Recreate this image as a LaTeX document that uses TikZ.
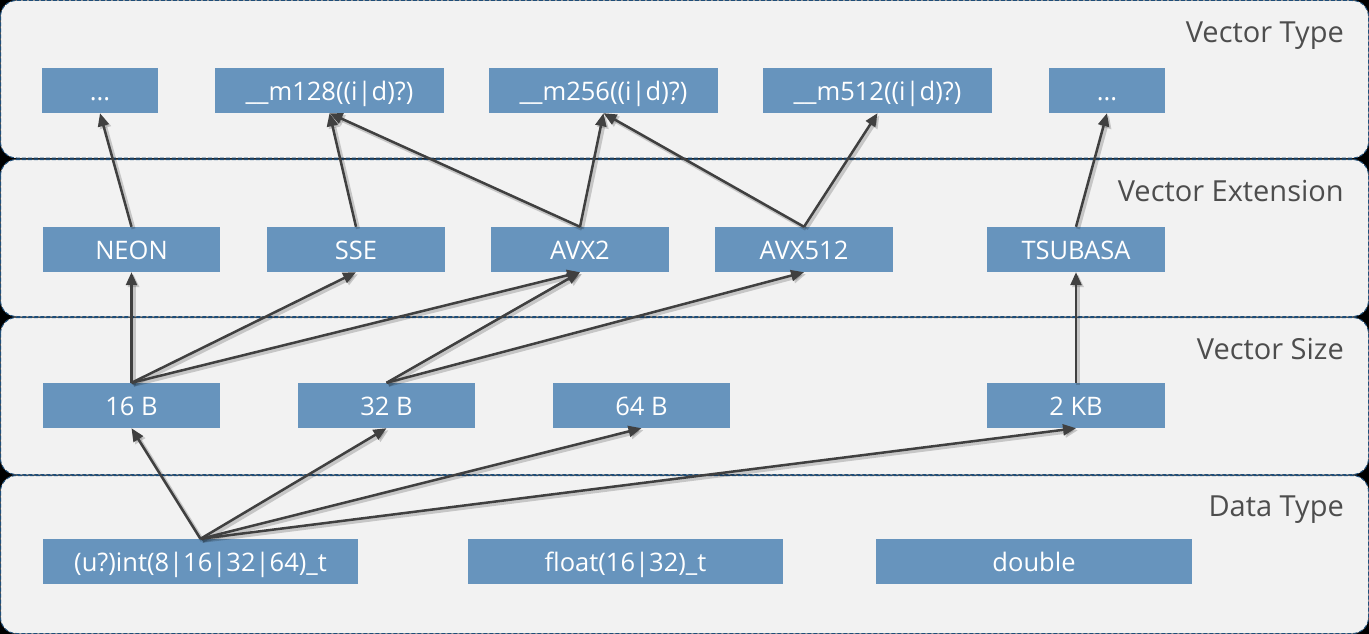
\documentclass[tikz,border=0pt]{standalone}
\usepackage{fontspec}
\setmainfont{Open Sans}
\usetikzlibrary{arrows.meta}
\definecolor{bandfill}{HTML}{F2F2F2}
\definecolor{bandline}{HTML}{1F4E79}
\definecolor{boxfill}{HTML}{6794BD}
\definecolor{arrcol}{HTML}{404040}
\definecolor{labcol}{HTML}{4D4D4D}
\tikzset{
  band/.style={fill=bandfill, draw=bandline, line width=1pt, dash pattern=on 4pt off 2pt, rounded corners=16pt},
  box/.style={fill=boxfill, text=white, minimum height=45pt, inner sep=0pt, text height=24pt, text depth=5pt, font=\fontsize{25.5}{28}\selectfont},
  bandlabel/.style={anchor=base east, text=labcol, inner sep=0pt, font=\fontsize{29}{32}\selectfont},
  conn/.style={draw=arrcol, line width=2.5pt, -{Triangle[length=13pt,width=11pt]},
    preaction={draw=black, opacity=0.18, line width=4pt, transform canvas={shift={(2pt,-2pt)}}}},
}
\begin{document}
\begin{tikzpicture}[x=1pt,y=-1pt]
\fill[black] (0,0) rectangle (1369,634);
\useasboundingbox (0,0) rectangle (1369,634);
\path[band] (0.5,0.5) rectangle (1368.5,158);
\path[band] (0.5,159.5) rectangle (1368.5,316.5);
\path[band] (0.5,317.5) rectangle (1368.5,474.5);
\path[band] (0.5,475.5) rectangle (1368.5,633.5);

\node[bandlabel] (lt) at (1344,43) {Vector Type};
\node[bandlabel] (le) at (1344,201) {Vector Extension};
\node[bandlabel] (ls) at (1344,359) {Vector Size};
\node[bandlabel] (ld) at (1344,516) {Data Type};

\node[box, minimum width=116pt] (t1) at (100,90.5) {.{}.{}.};
\node[box, minimum width=229pt] (t2) at (329.5,90.5) {\_\_m128((i|d)?)};
\node[box, minimum width=229pt] (t3) at (603.5,90.5) {\_\_m256((i|d)?)};
\node[box, minimum width=229pt] (t4) at (877.5,90.5) {\_\_m512((i|d)?)};
\node[box, minimum width=116pt] (t5) at (1107,90.5) {.{}.{}.};

\node[box, minimum width=177pt] (e1) at (131.5,249.5) {NEON};
\node[box, minimum width=178pt] (e2) at (356,249.5) {SSE};
\node[box, minimum width=178pt] (e3) at (580,249.5) {AVX2};
\node[box, minimum width=178pt] (e4) at (804,249.5) {AVX512};
\node[box, minimum width=178pt] (e5) at (1076,249.5) {TSUBASA};

\node[box, minimum width=177pt] (s1) at (131.5,405.5) {16 B};
\node[box, minimum width=177pt] (s2) at (386.5,405.5) {32 B};
\node[box, minimum width=177pt] (s3) at (641.5,405.5) {64 B};
\node[box, minimum width=178pt] (s4) at (1076,405.5) {2 KB};

\node[box, minimum width=315pt] (d1) at (200.5,561.5) {(u?)int(8|16|32|64)\_t};
\node[box, minimum width=315pt] (d2) at (625.5,561.5) {float(16|32)\_t};
\node[box, minimum width=316pt] (d3) at (1034,561.5) {double};

\draw[conn] (e1.north) -- (t1.south);
\draw[conn] (e2.north) -- (t2.south);
\draw[conn] (e3.north) -- (t2.south);
\draw[conn] (e3.north) -- (t3.south);
\draw[conn] (e4.north) -- (t3.south);
\draw[conn] (e4.north) -- (t4.south);
\draw[conn] (e5.north) -- (t5.south);

\draw[conn] (s1.north) -- (e1.south);
\draw[conn] (s1.north) -- (e2.south);
\draw[conn] (s1.north) -- (e3.south);
\draw[conn] (s2.north) -- (e3.south);
\draw[conn] (s2.north) -- (e4.south);
\draw[conn] (s4.north) -- (e5.south);

\draw[conn] (d1.north) -- (s1.south);
\draw[conn] (d1.north) -- (s2.south);
\draw[conn] (d1.north) -- (s3.south);
\draw[conn] (d1.north) -- (s4.south);
\end{tikzpicture}
\end{document}
